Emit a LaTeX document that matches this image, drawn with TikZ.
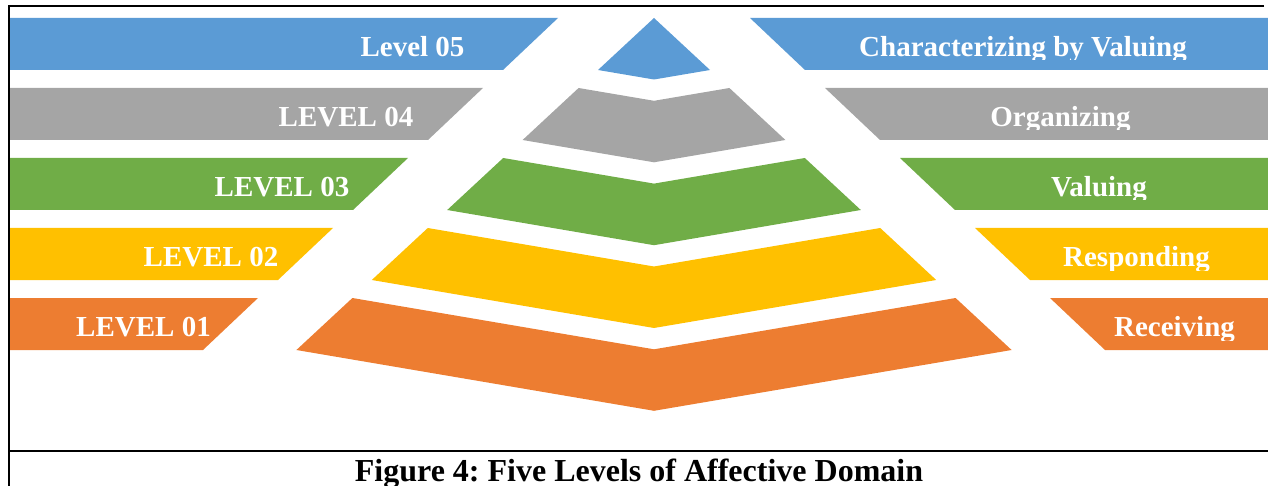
\documentclass[tikz,border=0pt]{standalone}
\usepackage{fontspec}
\setmainfont{Liberation Serif}
\frenchspacing
\definecolor{lvlfive}{HTML}{5B9BD5}
\definecolor{lvlfour}{HTML}{A5A5A5}
\definecolor{lvlthree}{HTML}{70AD47}
\definecolor{lvltwo}{HTML}{FFC000}
\definecolor{lvlone}{HTML}{ED7D31}
\begin{document}
\begin{tikzpicture}[x=1pt,y=-1pt,
  bandtext/.style={text=white,font=\fontsize{29}{29}\selectfont\bfseries,inner sep=0pt,anchor=base},
  frameline/.style={line width=2pt,black},
  captiontext/.style={font=\fontsize{32}{32}\selectfont\bfseries,inner sep=0pt,anchor=base}]
\useasboundingbox (0,0) rectangle (1268,486);

% left label bands
\fill[lvlfive]  (9,18)  -- (558,18)  -- (503,70)  -- (9,70)  -- cycle;
\fill[lvlfour]  (9,88)  -- (483,88)  -- (428,140) -- (9,140) -- cycle;
\fill[lvlthree] (9,158) -- (408,158) -- (353,210) -- (9,210) -- cycle;
\fill[lvltwo]   (9,228) -- (333,228) -- (278,280) -- (9,280) -- cycle;
\fill[lvlone]   (9,298) -- (258,298) -- (203,350) -- (9,350) -- cycle;

% right label bands
\fill[lvlfive]  (750,18)  -- (1268,18)  -- (1268,70)  -- (805,70)  -- cycle;
\fill[lvlfour]  (825,88)  -- (1268,88)  -- (1268,140) -- (880,140) -- cycle;
\fill[lvlthree] (900,158) -- (1268,158) -- (1268,210) -- (955,210) -- cycle;
\fill[lvltwo]   (975,228) -- (1268,228) -- (1268,280) -- (1030,280) -- cycle;
\fill[lvlone]   (1050,298) -- (1268,298) -- (1268,350) -- (1105,350) -- cycle;

% pyramid, built from stacked chevrons
\fill[lvlfive]  (654,18) -- (710,70) -- (654,79.5) -- (598,70) -- cycle;
\fill[lvlfour]  (578.6,88) -- (654,100.8) -- (729.4,88) -- (785.4,140) -- (654,162.3) -- (522.6,140) -- cycle;
\fill[lvlthree] (503.2,158) -- (654,183.6) -- (804.8,158) -- (860.8,210) -- (654,245.2) -- (447.2,210) -- cycle;
\fill[lvltwo]   (427.8,228) -- (654,266.5) -- (880.2,228) -- (936.2,280) -- (654,328) -- (371.8,280) -- cycle;
\fill[lvlone]   (352.4,298) -- (654,349.3) -- (955.6,298) -- (1011.6,350) -- (654,410.8) -- (296.4,350) -- cycle;

% level labels
\node[bandtext] (l5) at (412.5,56.5)  {Level 05};
\node[bandtext] (l4) at (346,126.5)   {LEVEL 04};
\node[bandtext] (l3) at (282,196.5)   {LEVEL 03};
\node[bandtext] (l2) at (211,266.5)   {LEVEL 02};
\node[bandtext] (l1) at (143.5,336.5) {LEVEL 01};

% category labels, cut off just below the baseline
\begin{scope}
  \clip (760,18) rectangle (1268,60);
  \node[bandtext] (r5) at (1023,56.5) {Characterizing by Valuing};
\end{scope}
\begin{scope}
  \clip (830,88) rectangle (1268,130);
  \node[bandtext] (r4) at (1060.5,126.5) {Organizing};
\end{scope}
\begin{scope}
  \clip (900,158) rectangle (1268,200);
  \node[bandtext] (r3) at (1099,196.5) {Valuing};
\end{scope}
\begin{scope}
  \clip (980,228) rectangle (1268,270);
  \node[bandtext] (r2) at (1136.5,266.5) {Responding};
\end{scope}
\begin{scope}
  \clip (1050,298) rectangle (1268,340);
  \node[bandtext] (r1) at (1174.5,336.5) {Receiving};
\end{scope}

% frame
\draw[frameline] (1264,6) -- (8.7,6) -- (8.7,486);
\draw[frameline] (8.7,451) -- (1268,451);

% caption
\node[captiontext] (cap) at (639,481) {Figure 4: Five Levels of Affective Domain};
\end{tikzpicture}
\end{document}
